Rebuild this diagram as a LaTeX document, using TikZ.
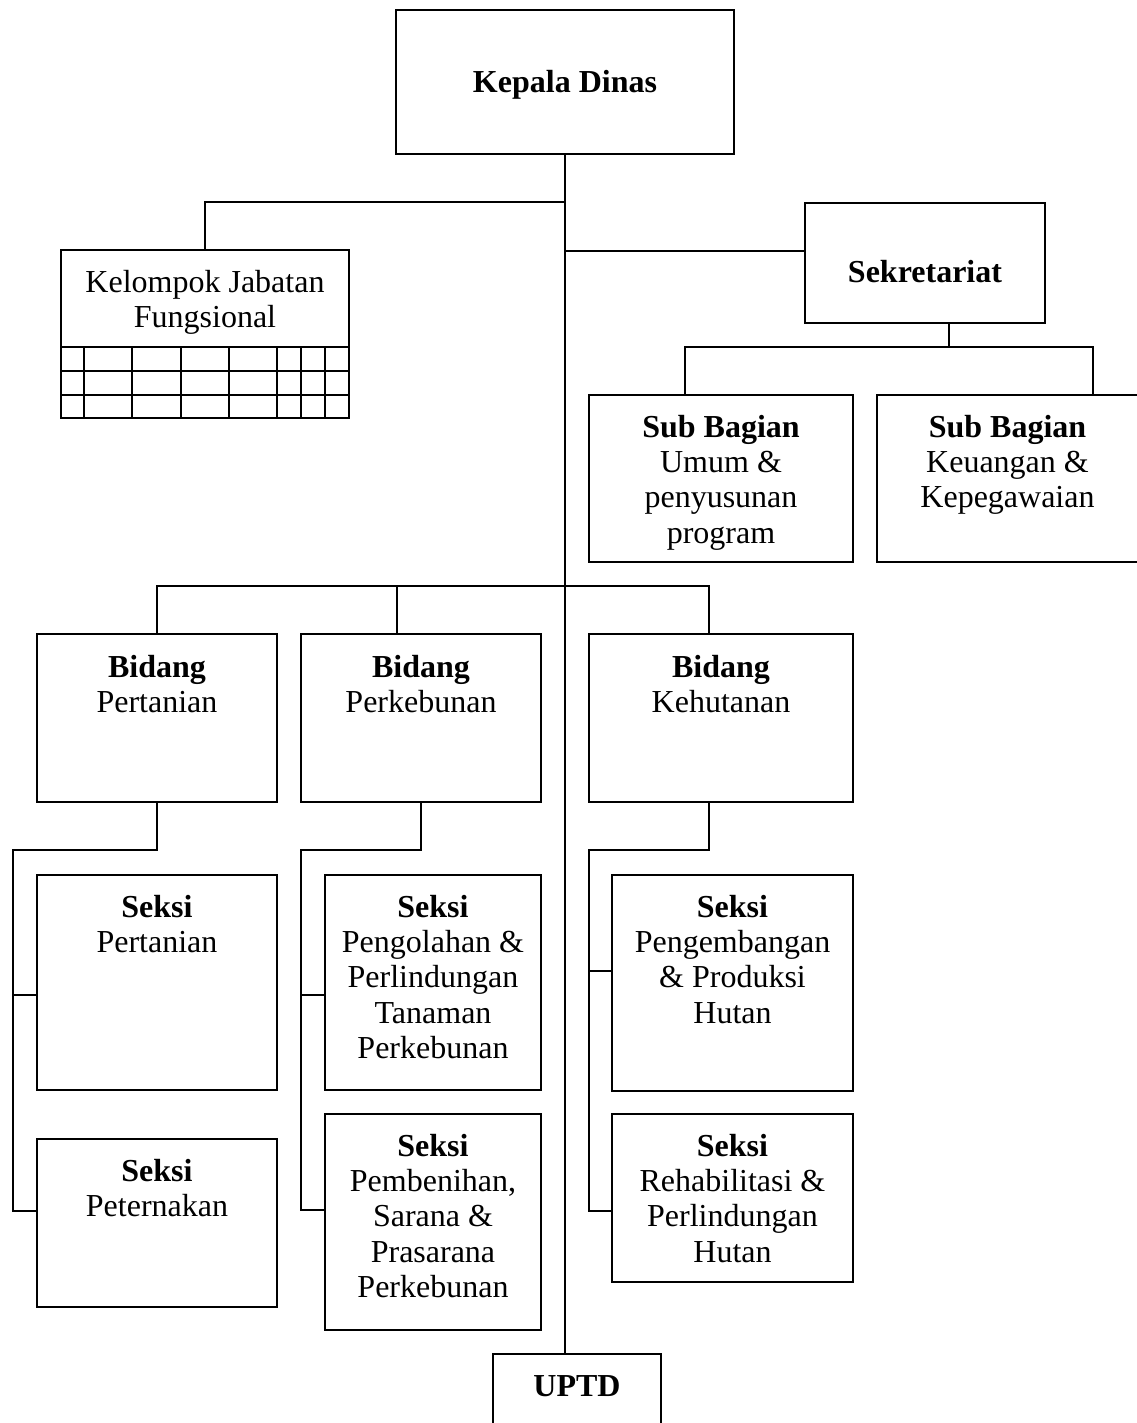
\documentclass[tikz,border=0pt]{standalone}
\usepackage{fontspec}
\setmainfont{Liberation Serif}
\usetikzlibrary{fit,calc}
\begin{document}
\begin{tikzpicture}[x=0.75pt,y=-0.75pt,
  line width=1.5pt,
  box/.style={draw, inner sep=0pt, outer sep=0pt, line width=1.5pt},
  lbl/.style={anchor=north, inner sep=0pt, align=center,
              font=\fontsize{24}{26.5}\selectfont},
  wire/.style={line width=1.5pt}]

\useasboundingbox (0,0) rectangle (1137,1423);
\clip (0,0) rectangle (1137,1423);

% ---------- boxes ----------
\node[box, fit={(396,10) (734,154)}]     (kd)   {};
\node[box, fit={(61,250) (349,418)}]     (kjf)  {};
\node[box, fit={(805,203) (1045,323)}]   (sek)  {};
\node[box, fit={(589,395) (853,562)}]    (sb1)  {};
\node[box, fit={(877,395) (1138,562)}]   (sb2)  {};
\node[box, fit={(37,634) (277,802)}]     (bp)   {};
\node[box, fit={(301,634) (541,802)}]    (bk)   {};
\node[box, fit={(589,634) (853,802)}]    (bh)   {};
\node[box, fit={(37,875) (277,1090)}]    (s1)   {};
\node[box, fit={(37,1139) (277,1307)}]   (s2)   {};
\node[box, fit={(325,875) (541,1090)}]   (s3)   {};
\node[box, fit={(325,1114) (541,1330)}]  (s4)   {};
\node[box, fit={(612,875) (853,1091)}]   (s5)   {};
\node[box, fit={(612,1114) (853,1282)}]  (s6)   {};
\node[box, fit={(493,1354) (661,1440)}]  (uptd) {};

% ---------- labels ----------
\node[lbl] (kdt)   at ($(kd.north)+(0,59)$)   {\textbf{Kepala Dinas}};
\node[lbl] (kjft)  at ($(kjf.north)+(0,19)$)  {Kelompok Jabatan\\Fungsional};
\node[lbl] (sekt)  at ($(sek.north)+(0,56)$)  {\textbf{Sekretariat}};
\node[lbl] (sb1t)  at ($(sb1.north)+(0,19)$)  {\textbf{Sub Bagian}\\Umum \&\\penyusunan\\program};
\node[lbl] (sb2t)  at ($(sb2.north)+(0,19)$)  {\textbf{Sub Bagian}\\Keuangan \&\\Kepegawaian};
\node[lbl] (bpt)   at ($(bp.north)+(0,20)$)   {\textbf{Bidang}\\Pertanian};
\node[lbl] (bkt)   at ($(bk.north)+(0,20)$)   {\textbf{Bidang}\\Perkebunan};
\node[lbl] (bht)   at ($(bh.north)+(0,20)$)   {\textbf{Bidang}\\Kehutanan};
\node[lbl] (s1t)   at ($(s1.north)+(0,19)$)   {\textbf{Seksi}\\Pertanian};
\node[lbl] (s2t)   at ($(s2.north)+(0,19)$)   {\textbf{Seksi}\\Peternakan};
\node[lbl] (s3t)   at ($(s3.north)+(0,19)$)   {\textbf{Seksi}\\Pengolahan \&\\Perlindungan\\Tanaman\\Perkebunan};
\node[lbl] (s4t)   at ($(s4.north)+(0,19)$)   {\textbf{Seksi}\\Pembenihan,\\Sarana \&\\Prasarana\\Perkebunan};
\node[lbl] (s5t)   at ($(s5.north)+(0,19)$)   {\textbf{Seksi}\\Pengembangan\\\& Produksi\\Hutan};
\node[lbl] (s6t)   at ($(s6.north)+(0,19)$)   {\textbf{Seksi}\\Rehabilitasi \&\\Perlindungan\\Hutan};
\node[lbl] (uptdt) at ($(uptd.north)+(0,21)$) {\textbf{UPTD}};

% ---------- table grid under Kelompok Jabatan Fungsional ----------
\foreach \gy in {347,371,395}
  \draw[wire] (kjf.west |- 0,\gy) -- (kjf.east |- 0,\gy);
\foreach \gx in {84,132,181,229,277,301,325}
  \draw[wire] (\gx,347) -- (\gx,418);

% ---------- connectors ----------
% main trunk
\draw[wire] (kd.south) -- (kd.south |- uptd.north);

% functional group
\coordinate (jl) at (565,202);
\draw[wire] (kjf.north) |- (jl);

% secretariat and its sub-sections
\coordinate (jr) at (565,251);
\draw[wire] (jr) -- (jr -| sek.west);
\coordinate (sd)  at (949,347);
\coordinate (sbl) at (685,347);
\coordinate (sbr) at (1093,347);
\draw[wire] (sd |- sek.south) -- (sd);
\draw[wire] (sbl |- sb1.north) -- (sbl) -- (sbr) -- (sbr |- sb2.north);

% departments
\coordinate (bl) at (157,586);
\coordinate (bm) at (397,586);
\coordinate (br) at (709,586);
\draw[wire] (bp.north) -- (bl) -- (br) -- (br |- bh.north);
\draw[wire] (bm) -- (bm |- bk.north);

% Pertanian sections
\coordinate (pa)  at (13,850);
\coordinate (pb1) at (13,995);
\coordinate (pb2) at (13,1211);
\draw[wire] (bp.south) |- (pa) -- (pb2) -- (pb2 -| s2.west);
\draw[wire] (pb1) -- (pb1 -| s1.west);

% Perkebunan sections
\coordinate (ka)  at (301,850);
\coordinate (kb1) at (301,995);
\coordinate (kb2) at (301,1210);
\draw[wire] (bk.south) |- (ka) -- (kb2) -- (kb2 -| s4.west);
\draw[wire] (kb1) -- (kb1 -| s3.west);

% Kehutanan sections
\coordinate (hd)  at (709,850);
\coordinate (ha)  at (589,850);
\coordinate (hb1) at (589,971);
\coordinate (hb2) at (589,1211);
\draw[wire] (hd |- bh.south) -- (hd) -- (ha) -- (hb2) -- (hb2 -| s6.west);
\draw[wire] (hb1) -- (hb1 -| s5.west);

\end{tikzpicture}
\end{document}
